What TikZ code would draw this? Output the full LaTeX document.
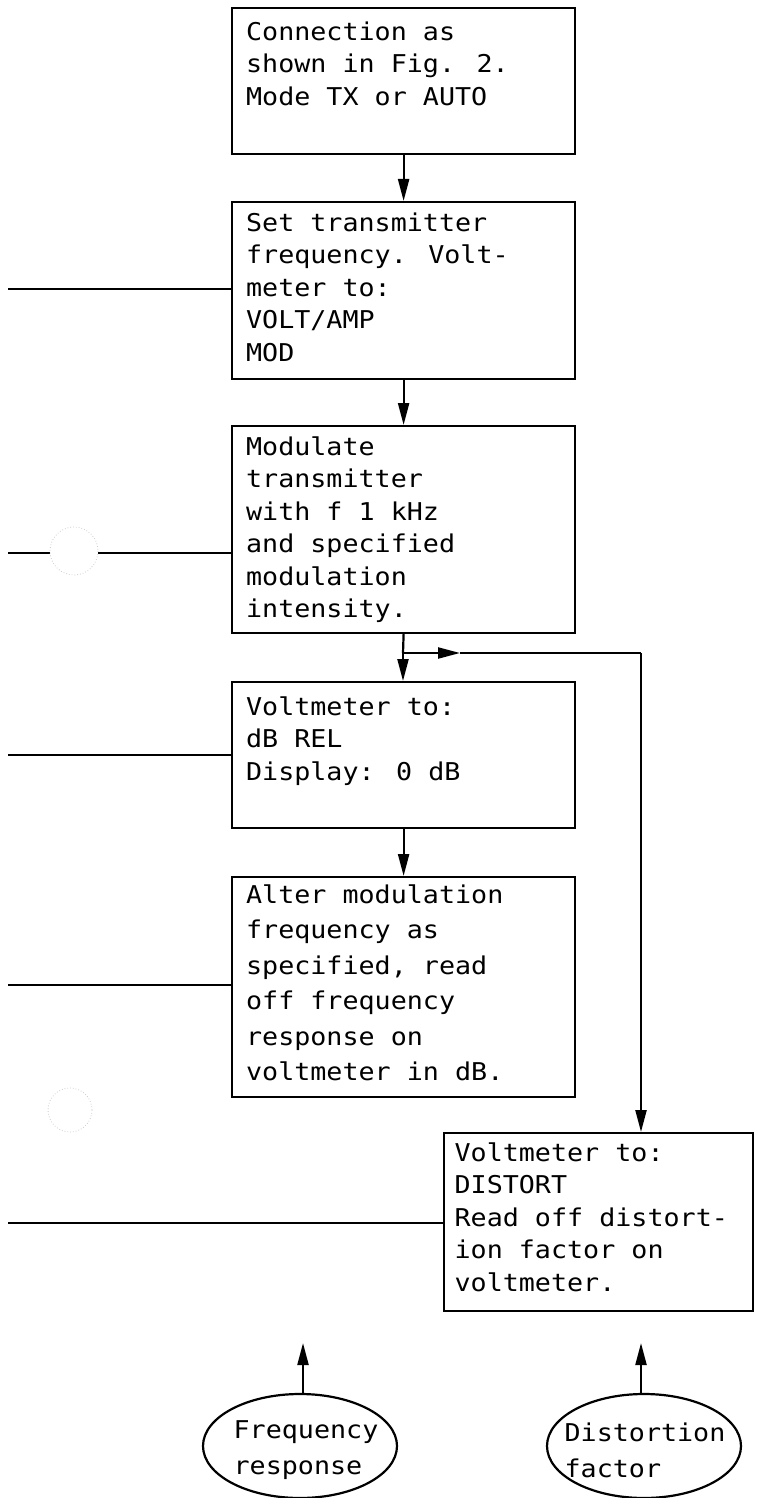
\documentclass[tikz,border=0pt]{standalone}
\usepackage{fontspec}
\newfontfamily\twfont[FakeStretch=1.09]{DejaVu Sans Mono}
\usetikzlibrary{arrows.meta,shapes.geometric}
\newcommand\bxt[4]{\parbox[c][#2][t]{#1}{\raggedright\rule{0pt}{#3}#4}}
\begin{document}
\begin{tikzpicture}[x=1pt,y=-1pt,
  ln/.style={line width=2.2pt},
  bx/.style={draw, line width=2.2pt, inner xsep=14pt, inner ysep=0pt, anchor=north west,
             font=\twfont\fontsize{24.5}{32.5}\selectfont},
  arr/.style={ln, -{Triangle[length=22pt,width=11pt]}},
  hole/.style={draw=gray!40, dotted, line width=0.8pt},
  ell/.style={ellipse, draw, line width=2.2pt, minimum width=194pt, minimum height=104pt, inner sep=0pt},
  etxt/.style={align=left, inner sep=0pt, font=\twfont\fontsize{24.5}{36}\selectfont}]
\useasboundingbox (0,0) rectangle (756,1498);

% boxes
\node[bx] (b1) at (231,7)   {\bxt{315pt}{146pt}{32pt}{Connection as\\shown in Fig. 2.\\Mode TX or AUTO}};
\node[bx] (b2) at (231,201) {\bxt{315pt}{177pt}{29pt}{Set transmitter\\frequency. Volt-\\meter to:\\VOLT/AMP\\MOD}};
\node[bx] (b3) at (231,425) {\bxt{315pt}{207pt}{29pt}{Modulate\\transmitter\\with f 1 kHz\\and specified\\modulation\\intensity.}};
\node[bx] (b4) at (231,681) {\bxt{315pt}{146pt}{33pt}{Voltmeter to:\\dB REL\\Display: 0 dB}};
\node[bx] (b5) at (231,876) {\bxt{315pt}{220pt}{26pt}{\fontsize{24.5}{35.5}\selectfont Alter modulation\\frequency as\\specified, read\\off frequency\\response on\\voltmeter in dB.}};
\node[bx, inner xsep=10.5pt] (b6) at (443,1132) {\bxt{288pt}{178pt}{28pt}{Voltmeter to:\\DISTORT\\Read off distort-\\ion factor on\\voltmeter.}};

% result ellipses
\node[ell] (e1) at (300,1446) {};
\node[etxt] (e1t) at (306,1450) {Frequency\\response};
\node[ell] (e2) at (644,1446) {};
\node[etxt] (e2t) at (645,1450) {Distortion\\factor};

% main flow
\draw[arr] (b1.south) -- (b2.north);
\draw[arr] (b2.south) -- (b3.north);
\coordinate (j) at (403,653);
\draw[ln] (b3.south) -- (j);
\draw[arr] (j) -- (j |- b4.north);
\draw[arr] (b4.south) -- (b5.north);

% branch to distortion measurement
\coordinate (m) at (460,653);
\coordinate (k) at (641,653);
\draw[arr] (j) -- (m);
\draw[ln] (m) -- (k);
\draw[arr] (k) -- (k |- b6.north);

% arrows from results
\coordinate (a1) at (303,1343);
\coordinate (a2) at (641,1343);
\draw[arr] (e1.north -| a1) -- (a1);
\draw[arr] (e2.north -| a2) -- (a2);

% lines from the left edge
\coordinate (l2) at (8,289);
\coordinate (l3) at (8,553);
\coordinate (g1) at (50,553);
\coordinate (g2) at (98,553);
\coordinate (l4) at (8,755);
\coordinate (l5) at (8,985);
\coordinate (l6) at (8,1223);
\draw[ln] (l2) -- (l2 -| b2.west);
\draw[ln] (l3) -- (g1);
\draw[ln] (g2) -- (g2 -| b3.west);
\draw[ln] (l4) -- (l4 -| b4.west);
\draw[ln] (l5) -- (l5 -| b5.west);
\draw[ln] (l6) -- (l6 -| b6.west);

% punched holes
\draw[hole] (74,551) circle (24);
\draw[hole] (70,1110) circle (22);
\end{tikzpicture}
\end{document}
